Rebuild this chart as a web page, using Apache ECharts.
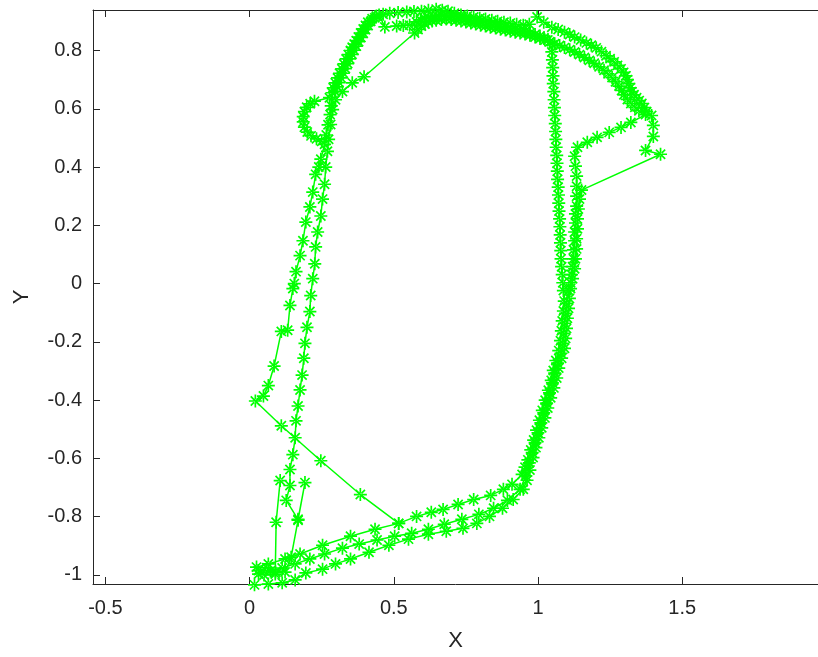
<!DOCTYPE html>
<html><head><meta charset="utf-8">
<script src="https://cdn.jsdelivr.net/npm/echarts@6/dist/echarts.min.js"></script>
<style>html,body{margin:0;padding:0;background:#fff;}#c{width:818px;height:657px;}</style>
</head><body><div id="c"></div>
<script>
// ---- axis ticks ----
const xTicks = [-0.5, 0, 0.5, 1, 1.5];
const yTicks = [-1, -0.8, -0.6, -0.4, -0.2, 0, 0.2, 0.4, 0.6, 0.8];

// ---- trajectory pieces (x, y) ----
const diagonal1 = [[0.517,-0.823],[0.384,-0.724],[0.247,-0.608],[0.11,-0.488],[0.02,-0.403]];
const outerLeft = [[0.048,-0.386],[0.065,-0.35],[0.085,-0.283],[0.11,-0.164],[0.132,-0.16],[0.14,-0.075],[0.15,-0.017],[0.155,0.0],[0.161,0.041],[0.175,0.096],[0.185,0.147],[0.195,0.211],[0.209,0.263],[0.219,0.314],[0.229,0.375],[0.24,0.40],[0.247,0.427],[0.26,0.478],[0.266,0.51],[0.272,0.545],[0.279,0.58],[0.283,0.61]];
const upperLeft1 = [[0.286,0.655],[0.29,0.672],[0.297,0.689],[0.305,0.706],[0.312,0.722],[0.32,0.737],[0.327,0.754],[0.335,0.771],[0.342,0.786],[0.35,0.80],[0.356,0.811],[0.363,0.822],[0.37,0.834],[0.377,0.846],[0.385,0.86],[0.394,0.874],[0.402,0.886],[0.41,0.897],[0.425,0.909],[0.44,0.918],[0.463,0.924],[0.486,0.928]];
const topOuter = [[0.515,0.930],[0.545,0.932],[0.57,0.934],[0.596,0.935],[0.62,0.938],[0.647,0.942],[0.668,0.938],[0.688,0.935],[0.71,0.928],[0.733,0.922],[0.755,0.918],[0.777,0.915],[0.798,0.911],[0.818,0.908],[0.84,0.904],[0.86,0.90],[0.882,0.897],[0.904,0.894],[0.926,0.89],[0.949,0.887],[0.97,0.89],[0.997,0.915],[1.02,0.897],[1.048,0.88]];
const rightOuter = [[1.07,0.872],[1.092,0.863],[1.11,0.855],[1.127,0.846],[1.148,0.836],[1.168,0.826],[1.185,0.818],[1.202,0.809],[1.22,0.796],[1.236,0.782],[1.25,0.772],[1.264,0.761],[1.276,0.749],[1.288,0.737],[1.297,0.725],[1.305,0.713],[1.31,0.70],[1.315,0.686],[1.32,0.672],[1.325,0.659],[1.333,0.648],[1.342,0.638],[1.351,0.628],[1.36,0.618],[1.369,0.604],[1.377,0.59],[1.394,0.577]];
const hookOuter = [[1.40,0.543],[1.40,0.505],[1.373,0.457],[1.425,0.444],[1.151,0.321]];
const rightInner1 = [[1.144,0.29],[1.14,0.256],[1.137,0.222],[1.137,0.188],[1.134,0.154],[1.134,0.119],[1.13,0.085],[1.127,0.051],[1.12,0.017],[1.113,-0.017]];
const descent1 = [[1.109,-0.051],[1.106,-0.085],[1.102,-0.119],[1.099,-0.154],[1.096,-0.188],[1.092,-0.222],[1.082,-0.256],[1.072,-0.29],[1.065,-0.324],[1.055,-0.358],[1.044,-0.392],[1.034,-0.427],[1.024,-0.461],[1.013,-0.495],[1.003,-0.529],[0.993,-0.563],[0.983,-0.597],[0.972,-0.64],[0.962,-0.675]];
const bottomLower = [[0.949,-0.706],[0.914,-0.741],[0.877,-0.771],[0.832,-0.799],[0.788,-0.823],[0.74,-0.84],[0.682,-0.85],[0.62,-0.86],[0.551,-0.877],[0.483,-0.898],[0.414,-0.922],[0.35,-0.945],[0.298,-0.962],[0.253,-0.98],[0.195,-0.993],[0.158,-1.017],[0.113,-1.027],[0.065,-1.031],[0.017,-1.034]];

const cluster2 = [[0.03,-0.985],[0.06,-0.975],[0.09,-0.99],[0.123,-0.99],[0.144,-0.939],[0.168,-0.812],[0.192,-0.683],[0.168,-0.809],[0.127,-0.744]];
const innerLeft = [[0.14,-0.693],[0.14,-0.638],[0.15,-0.587],[0.158,-0.529],[0.161,-0.471],[0.168,-0.42],[0.175,-0.365],[0.182,-0.314],[0.188,-0.256],[0.192,-0.205],[0.199,-0.15],[0.209,-0.096],[0.212,-0.041],[0.219,0.017],[0.226,0.068],[0.229,0.126],[0.236,0.177],[0.247,0.232],[0.253,0.29],[0.26,0.341],[0.264,0.40],[0.27,0.454],[0.274,0.495],[0.281,0.546],[0.288,0.597],[0.298,0.631],[0.322,0.659],[0.356,0.689],[0.397,0.71],[0.572,0.86]];
const topLower = [[0.584,0.872],[0.596,0.884],[0.608,0.891],[0.62,0.898],[0.633,0.901],[0.647,0.904],[0.665,0.906],[0.682,0.908],[0.699,0.906],[0.716,0.904],[0.733,0.901],[0.75,0.898],[0.767,0.894],[0.784,0.891],[0.801,0.887],[0.818,0.884],[0.835,0.88],[0.853,0.877],[0.87,0.873],[0.887,0.87],[0.904,0.866],[0.921,0.863],[0.938,0.86],[0.955,0.857],[0.972,0.852],[0.99,0.846],[1.007,0.841],[1.024,0.836],[1.041,0.83],[1.058,0.823],[1.075,0.817],[1.092,0.81],[1.11,0.803],[1.127,0.795],[1.144,0.786],[1.161,0.776],[1.178,0.766],[1.195,0.756],[1.212,0.744],[1.229,0.732],[1.243,0.72],[1.257,0.707],[1.269,0.693],[1.281,0.678],[1.29,0.663],[1.298,0.648],[1.31,0.632],[1.322,0.618],[1.336,0.605],[1.35,0.593],[1.373,0.58]];
const hookInner = [[1.322,0.553],[1.288,0.536],[1.247,0.519],[1.205,0.502],[1.171,0.485],[1.137,0.468],[1.127,0.437],[1.13,0.403],[1.134,0.369],[1.134,0.334],[1.134,0.30]];
const rightInner2 = [[1.134,0.266],[1.13,0.239],[1.13,0.208],[1.127,0.177],[1.127,0.147],[1.123,0.116],[1.123,0.085],[1.12,0.058],[1.116,0.031],[1.113,0.003],[1.106,-0.024]];
const descent2 = [[1.099,-0.068],[1.096,-0.102],[1.092,-0.136],[1.089,-0.171],[1.086,-0.205],[1.08,-0.239],[1.068,-0.273],[1.058,-0.307],[1.05,-0.341],[1.04,-0.375],[1.03,-0.41],[1.02,-0.444],[1.01,-0.478],[1.0,-0.512],[0.99,-0.546],[0.98,-0.58],[0.97,-0.615],[0.958,-0.66]];
const bottomMiddle = [[0.938,-0.706],[0.894,-0.744],[0.846,-0.771],[0.795,-0.792],[0.736,-0.809],[0.675,-0.826],[0.62,-0.843],[0.562,-0.857],[0.503,-0.867],[0.442,-0.88],[0.38,-0.894],[0.322,-0.908],[0.26,-0.928],[0.209,-0.945],[0.158,-0.962],[0.113,-0.976],[0.072,-0.986],[0.031,-0.997]];

const smallLoop = [[0.25,0.488],[0.232,0.497],[0.213,0.507],[0.2,0.52],[0.19,0.537],[0.186,0.555],[0.186,0.573],[0.19,0.59],[0.198,0.605],[0.21,0.617],[0.225,0.626],[0.277,0.638]];
const upperLeft3 = [[0.296,0.66],[0.303,0.675],[0.31,0.69],[0.317,0.706],[0.325,0.722],[0.332,0.738],[0.34,0.755],[0.347,0.771],[0.355,0.787],[0.362,0.801],[0.37,0.815],[0.378,0.83],[0.386,0.845],[0.394,0.859],[0.402,0.872],[0.411,0.886],[0.42,0.9],[0.434,0.912],[0.449,0.922],[0.469,0.881]];
const topMid = [[0.51,0.884],[0.533,0.886],[0.555,0.887],[0.579,0.898],[0.593,0.905],[0.606,0.911],[0.62,0.915],[0.634,0.918],[0.649,0.92],[0.664,0.922],[0.682,0.92],[0.699,0.918],[0.716,0.917],[0.733,0.915],[0.75,0.91],[0.767,0.904],[0.784,0.901],[0.801,0.898],[0.818,0.895],[0.836,0.891],[0.853,0.888],[0.87,0.884],[0.887,0.881],[0.904,0.877],[0.921,0.874],[0.938,0.87],[0.955,0.865],[0.973,0.86],[0.99,0.855],[1.007,0.85],[1.021,0.843],[1.034,0.836],[1.051,0.819]];
const vertical3 = [[1.048,0.795],[1.05,0.768],[1.051,0.741],[1.052,0.713],[1.053,0.686],[1.055,0.659],[1.056,0.631],[1.057,0.604],[1.058,0.577],[1.06,0.549],[1.061,0.522],[1.062,0.495],[1.063,0.468],[1.065,0.44],[1.066,0.413],[1.067,0.386],[1.068,0.358],[1.07,0.331],[1.071,0.304],[1.072,0.276],[1.073,0.249],[1.075,0.222],[1.076,0.195],[1.077,0.167],[1.078,0.14],[1.079,0.113],[1.08,0.085],[1.082,0.058],[1.084,0.031],[1.086,0.003],[1.088,-0.024]];
const descent3 = [[1.091,-0.06],[1.088,-0.094],[1.084,-0.128],[1.081,-0.162],[1.078,-0.196],[1.072,-0.23],[1.062,-0.264],[1.053,-0.298],[1.046,-0.332],[1.036,-0.366],[1.025,-0.40],[1.015,-0.435],[1.005,-0.469],[0.995,-0.503],[0.985,-0.537],[0.975,-0.571],[0.965,-0.605],[0.955,-0.63]];
const bottomUpper = [[0.945,-0.655],[0.91,-0.689],[0.88,-0.706],[0.836,-0.727],[0.777,-0.741],[0.723,-0.758],[0.671,-0.775],[0.63,-0.785],[0.579,-0.799],[0.517,-0.823],[0.435,-0.843],[0.35,-0.867],[0.253,-0.898],[0.175,-0.928],[0.123,-0.945],[0.065,-0.962],[0.024,-0.973]];
const spike3 = [[0.05,-1.0],[0.089,-0.997],[0.092,-0.819],[0.106,-0.676]];

const lap1 = [].concat(diagonal1, outerLeft, upperLeft1, topOuter, rightOuter, hookOuter, rightInner1, descent1, bottomLower);
const lap2 = [].concat(cluster2, innerLeft, topLower, hookInner, rightInner2, descent2, bottomMiddle);
const lap3 = [].concat(smallLoop, upperLeft3, topMid, vertical3, descent3, bottomUpper, spike3);

const GREEN = '#00ff00';
const AX = '#262626';
const FONT = "'Liberation Sans', Arial, Helvetica, sans-serif";
const STAR = 'path://M-0.65,-5 L0.65,-5 L0.65,5 L-0.65,5 Z M-5,-0.65 L5,-0.65 L5,0.65 L-5,0.65 Z M-4.0,-3.08 L-3.08,-4.0 L4.0,3.08 L3.08,4.0 Z M4.0,-3.08 L3.08,-4.0 L-4.0,3.08 L-3.08,4.0 Z';

function lapSeries(data) {
  return {
    type: 'line', data: data, xAxisIndex: 0, yAxisIndex: 0,
    symbol: STAR, symbolSize: 13, showAllSymbol: true,
    lineStyle: { color: GREEN, width: 1.5 },
    itemStyle: { color: GREEN },
    clip: false, animation: false, silent: true
  };
}

const chart = echarts.init(document.getElementById('c'), null, { renderer: 'canvas' });
const XMIN = -0.543, XMAX = 1.971, YMIN = -1.031, YMAX = 0.939;
chart.setOption({
  backgroundColor: '#ffffff',
  animation: false,
  grid: { left: 93, top: 10, width: 734, height: 578, containLabel: false },
  xAxis: [
    {
      type: 'value', min: XMIN, max: XMAX, position: 'bottom',
      axisLine: { show: true, onZero: false, lineStyle: { color: AX, width: 1 } },
      axisTick: { show: true, inside: true, length: 7, customValues: xTicks, lineStyle: { color: AX, width: 1 } },
      axisLabel: { customValues: xTicks, margin: 14, fontSize: 20, color: AX, fontFamily: FONT },
      splitLine: { show: false },
      name: 'X', nameLocation: 'middle', nameGap: 46,
      nameTextStyle: { fontSize: 22, color: AX, fontFamily: FONT }
    },
    {
      type: 'value', min: XMIN, max: XMAX, position: 'top',
      axisLine: { show: true, onZero: false, lineStyle: { color: AX, width: 1 } },
      axisTick: { show: true, inside: true, length: 7, customValues: xTicks, lineStyle: { color: AX, width: 1 } },
      axisLabel: { show: false }, splitLine: { show: false }
    }
  ],
  yAxis: [
    {
      type: 'value', min: YMIN, max: YMAX, position: 'left',
      axisLine: { show: true, onZero: false, lineStyle: { color: AX, width: 1 } },
      axisTick: { show: true, inside: true, length: 7, customValues: yTicks, lineStyle: { color: AX, width: 1 } },
      axisLabel: { customValues: yTicks, margin: 11, fontSize: 20, color: AX, fontFamily: FONT },
      splitLine: { show: false },
      name: 'Y', nameLocation: 'middle', nameGap: 60,
      nameTextStyle: { fontSize: 22, color: AX, fontFamily: FONT }
    }
  ],
  series: [lapSeries(lap1), lapSeries(lap2), lapSeries(lap3)]
});
</script></body></html>
